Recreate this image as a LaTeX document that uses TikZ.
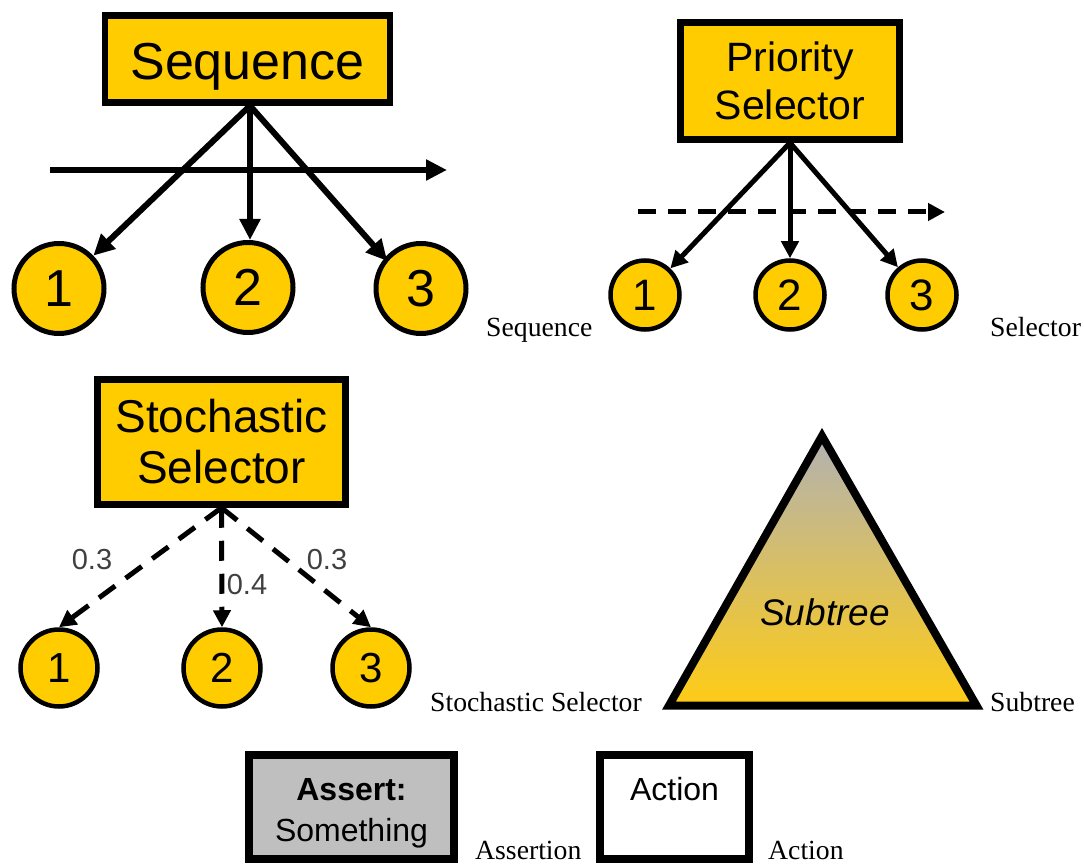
\documentclass[tikz,border=0pt]{standalone}
\usepackage{fontspec}
\setmainfont{Liberation Serif}
\setsansfont{Liberation Sans}
\usetikzlibrary{arrows.meta}
\definecolor{gold}{HTML}{FFCC00}
\definecolor{goldb}{HTML}{FFCC14}
\definecolor{goldm}{HTML}{E0C168}
\definecolor{graybox}{HTML}{BFBFBF}
\definecolor{topgray}{HTML}{B2B2B2}
\definecolor{probgray}{HTML}{404040}
\tikzset{
 x=1pt,y=-1pt,
 composite/.style={draw=black,fill=gold,line width=6.5pt,inner sep=0pt,align=center,font=\sffamily,anchor=center},
 bignum/.style={circle,draw=black,fill=gold,line width=5pt,inner sep=0pt,font=\sffamily},
 caption/.style={font=\fontsize{27.7}{30}\selectfont,inner sep=0pt,anchor=base west},
 solidarrow/.style={line width=6pt,-{Triangle[length=21pt,width=20pt]}},
 smallarrow/.style={line width=5pt,-{Triangle[length=17pt,width=17pt]}},
 dashedarrow/.style={line width=5pt,dash pattern=on 20pt off 13pt,-{Triangle[length=17pt,width=17pt]}},
 prob/.style={font=\sffamily\fontsize{29}{30}\selectfont,text=probgray,inner sep=0pt},
 leaf/.style={draw=black,line width=8pt,inner sep=0pt,align=center,font=\sffamily\fontsize{32}{41}\selectfont},
}
\begin{document}
\begin{tikzpicture}
\useasboundingbox (0,0) rectangle (1084,866);
% Sequence
\node[composite,minimum width=285pt,minimum height=87pt,text height=51pt,font=\sffamily\fontsize{52}{56}\selectfont] (seq) at (247.5,59) {Sequence};
\node[bignum,minimum size=90pt,font=\sffamily\fontsize{52}{56}\selectfont] (s1) at (59,288.5) {1};
\node[bignum,minimum size=90pt,font=\sffamily\fontsize{52}{56}\selectfont] (s2) at (248,287.5) {2};
\node[bignum,minimum size=90pt,font=\sffamily\fontsize{52}{56}\selectfont] (s3) at (421,288.5) {3};
\coordinate (sa) at (50,170);
\coordinate (sb) at (447,170);
\draw[solidarrow] (sa) -- (sb);
\draw[solidarrow] ([xshift=2.5pt]seq.south) -- (s1);
\draw[solidarrow] ([xshift=2.5pt]seq.south) -- ([xshift=2pt]s2.north);
\draw[solidarrow,shorten >=-4pt] ([xshift=2.5pt]seq.south) -- (s3.140);
\node[caption] (lseq) at (486,336.5) {Sequence};
% Priority selector
\node[composite,minimum width=219pt,minimum height=117pt,font=\sffamily\fontsize{41}{48}\selectfont] (pri) at (790,81) {Priority\\Selector};
\node[bignum,minimum size=69pt,line width=4.5pt,font=\sffamily\fontsize{44}{48}\selectfont] (p1) at (645,295) {1};
\node[bignum,minimum size=69pt,line width=4.5pt,font=\sffamily\fontsize{44}{48}\selectfont] (p2) at (790,295) {2};
\node[bignum,minimum size=69pt,line width=4.5pt,font=\sffamily\fontsize{44}{48}\selectfont] (p3) at (922,295) {3};
\coordinate (pa) at (638,212);
\coordinate (pb) at (945,212);
\draw[line width=5pt,dash pattern=on 18pt off 12pt,-{Triangle[length=17pt,width=17pt]}] (pa) -- (pb);
\draw[smallarrow] (pri.south) -- (p1);
\draw[smallarrow] (pri.south) -- (p2);
\draw[smallarrow] (pri.south) -- (p3);
\node[caption] (lsel) at (990,336.5) {Selector};
% Stochastic selector
\node[composite,minimum width=248pt,minimum height=125pt,font=\sffamily\fontsize{46}{51}\selectfont] (sto) at (221.5,442) {Stochastic\\Selector};
\node[bignum,minimum size=77pt,line width=4.5pt,font=\sffamily\fontsize{42}{46}\selectfont] (t1) at (59,668) {1};
\node[bignum,minimum size=77pt,line width=4.5pt,font=\sffamily\fontsize{42}{46}\selectfont] (t2) at (222,668) {2};
\node[bignum,minimum size=77pt,line width=4.5pt,font=\sffamily\fontsize{42}{46}\selectfont] (t3) at (371,668) {3};
\draw[dashedarrow] (sto.south) -- (t1.north);
\draw[dashedarrow] (sto.south) -- (t2.north);
\draw[dashedarrow] (sto.south) -- (t3.north);
\node[prob] (p03a) at (92,560) {0.3};
\node[prob,fill=white,inner sep=1pt] (p04) at (247,585) {0.4};
\node[prob] (p03b) at (327,560) {0.3};
\node[caption] (lsto) at (430,711) {Stochastic Selector};
% Subtree
\coordinate (ta) at (822,436);
\coordinate (tb) at (669,705.5);
\coordinate (tc) at (976.5,705.5);
\shade[top color=topgray,middle color=goldm,bottom color=goldb] (ta) -- (tb) -- (tc) -- cycle;
\draw[line width=8pt,miter limit=10] (ta) -- (tb) -- (tc) -- cycle;
\node[font=\sffamily\itshape\fontsize{37}{40}\selectfont,inner sep=0pt] (sub) at (825,612) {Subtree};
\node[caption] (lsub) at (990,711) {Subtree};
% Assertion and Action
\node[leaf,fill=graybox,minimum width=205pt,minimum height=104pt] (as) at (351.5,807) {\rule{0pt}{35pt}\textbf{Assert:}\\Something};
\node[leaf,fill=white,minimum width=149pt,minimum height=104pt,text depth=36pt] (ac) at (674.5,807) {Action};
\node[caption] (lass) at (475,859) {Assertion};
\node[caption] (lact) at (768,859) {Action};
\end{tikzpicture}
\end{document}
